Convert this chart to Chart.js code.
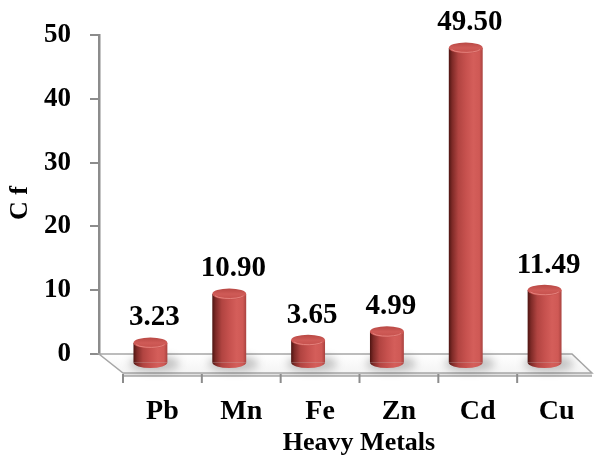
<!DOCTYPE html>
<html>
<head>
<meta charset="utf-8">
<script src="https://cdn.jsdelivr.net/npm/chart.js@4/dist/chart.umd.min.js"></script>
<style>
  html, body { margin: 0; padding: 0; background: #ffffff; }
  #wrap { width: 595px; height: 459px; }
</style>
</head>
<body>
<div id="wrap"><canvas id="c" width="595" height="459"></canvas></div>
<script>
// Contamination factor of each heavy metal
const metals = ['Pb', 'Mn', 'Fe', 'Zn', 'Cd', 'Cu'];
const cfValues = [3.23, 10.90, 3.65, 4.99, 49.50, 11.49];
const yTicks = [0, 10, 20, 30, 40, 50];
const yTitle = 'C f';
const xTitle = 'Heavy Metals';

const SERIF = '"Liberation Serif", "Times New Roman", serif';
// 3D depth: floor front edge offset, bars sit half-way in
const DEPTH_X = 24, DEPTH_Y = 19;
const BAR_DX = 12, BAR_DY = 9.5;
const CAP_RY = 5.5;

function bodyGradient(ctx, x, w) {
  if (!isFinite(x) || !isFinite(w) || w <= 0) return '#c0504d';
  const g = ctx.createLinearGradient(x - w / 2, 0, x + w / 2, 0);
  g.addColorStop(0.00, '#4e1512');
  g.addColorStop(0.10, '#7e2a27');
  g.addColorStop(0.28, '#b14441');
  g.addColorStop(0.50, '#c6514e');
  g.addColorStop(0.72, '#d45e5a');
  g.addColorStop(0.90, '#cf5955');
  g.addColorStop(1.00, '#a9423f');
  return g;
}

function barWidth(chart) {
  const xs = chart.scales.x;
  return (xs.width / metals.length) * 0.43;
}

const cylinderPlugin = {
  id: 'cylinders',
  beforeDatasetsDraw(chart) {
    const ctx = chart.ctx;
    const a = chart.chartArea;
    // floor plate
    const bl = [a.left, a.bottom], br = [a.right, a.bottom];
    const fr = [a.right + DEPTH_X - 4, a.bottom + DEPTH_Y], fl = [a.left + DEPTH_X, a.bottom + DEPTH_Y];
    const th = 3;
    ctx.save();
    ctx.fillStyle = '#e2e2e2';
    ctx.beginPath();
    ctx.moveTo(fl[0], fl[1]); ctx.lineTo(fr[0], fr[1]);
    ctx.lineTo(fr[0], fr[1] + th); ctx.lineTo(fl[0], fl[1] + th); ctx.closePath();
    ctx.fill();
    const fg = ctx.createLinearGradient(0, a.bottom, 0, fl[1]);
    fg.addColorStop(0, '#ffffff');
    fg.addColorStop(1, '#f4f4f4');
    ctx.fillStyle = fg;
    ctx.beginPath();
    ctx.moveTo(bl[0], bl[1]); ctx.lineTo(br[0], br[1]);
    ctx.lineTo(fr[0], fr[1]); ctx.lineTo(fl[0], fl[1]); ctx.closePath();
    ctx.fill();
    ctx.strokeStyle = '#a6a6a6';
    ctx.lineWidth = 1.5;
    ctx.stroke();
    ctx.beginPath();
    ctx.moveTo(fl[0], fl[1] + th); ctx.lineTo(fr[0], fr[1] + th);
    ctx.stroke();
    // category ticks along the front edge
    const xs = chart.scales.x;
    const step = xs.width / metals.length;
    ctx.strokeStyle = '#8c8c8c';
    ctx.lineWidth = 2;
    for (let i = 0; i < metals.length; i++) {
      const tx = xs.left + i * step + DEPTH_X;
      ctx.beginPath();
      ctx.moveTo(tx, fl[1] + 1); ctx.lineTo(tx, fl[1] + 10);
      ctx.stroke();
    }
    // soft shadows under the cylinders
    const meta = chart.getDatasetMeta(0);
    const w = barWidth(chart);
    ctx.filter = 'blur(4px)';
    ctx.fillStyle = 'rgba(0,0,0,0.22)';
    meta.data.forEach(el => {
      ctx.beginPath();
      ctx.ellipse(el.x + BAR_DX + 4, el.base + BAR_DY + 1, w / 2 + 8, CAP_RY + 3, 0, 0, Math.PI * 2);
      ctx.fill();
    });
    ctx.filter = 'none';
    ctx.restore();
    // bars are drawn half-way into the floor depth
    ctx.save();
    ctx.translate(BAR_DX, BAR_DY);
  },
  afterDatasetsDraw(chart) {
    const ctx = chart.ctx;
    ctx.restore();
    const meta = chart.getDatasetMeta(0);
    const w = barWidth(chart);
    ctx.save();
    meta.data.forEach((el, i) => {
      const cx = el.x + BAR_DX;
      const top = el.y + BAR_DY;
      const base = el.base + BAR_DY;
      // rounded bottom
      ctx.fillStyle = bodyGradient(ctx, cx, w);
      ctx.beginPath();
      ctx.ellipse(cx, base, w / 2, CAP_RY, 0, 0, Math.PI);
      ctx.closePath();
      ctx.fill();
      // top cap
      const cg = ctx.createLinearGradient(0, top - CAP_RY, 0, top + CAP_RY);
      cg.addColorStop(0, '#b84844');
      cg.addColorStop(0.5, '#cf5b57');
      cg.addColorStop(1, '#c44f4b');
      ctx.fillStyle = cg;
      ctx.beginPath();
      ctx.ellipse(cx, top, w / 2, CAP_RY, 0, 0, Math.PI * 2);
      ctx.fill();
      ctx.strokeStyle = 'rgba(235,140,135,0.8)';
      ctx.lineWidth = 1;
      ctx.beginPath();
      ctx.ellipse(cx, top + 0.5, w / 2 - 2, CAP_RY - 1.5, 0, Math.PI * 0.1, Math.PI * 0.9);
      ctx.stroke();
      // value label
      ctx.fillStyle = '#000000';
      ctx.font = 'bold 29px ' + SERIF;
      ctx.textAlign = 'center';
      ctx.textBaseline = 'middle';
      ctx.fillText(cfValues[i].toFixed(2), cx + 4, top - 25);
    });
    ctx.restore();
  },
  afterDraw(chart) {
    const ctx = chart.ctx;
    ctx.save();
    ctx.fillStyle = '#000000';
    ctx.textAlign = 'center';
    ctx.textBaseline = 'middle';
    ctx.font = 'bold 26px ' + SERIF;
    ctx.fillText(xTitle, 359, 443);
    ctx.translate(20, 203);
    ctx.rotate(-Math.PI / 2);
    ctx.font = 'bold 26px ' + SERIF;
    ctx.fillText(yTitle, 0, 0);
    ctx.restore();
  }
};

new Chart(document.getElementById('c'), {
  type: 'bar',
  data: {
    labels: metals,
    datasets: [{
      data: cfValues,
      backgroundColor: (c) => {
        const ch = c.chart;
        if (!ch.scales || !ch.scales.x) return '#c0504d';
        const x = ch.scales.x.getPixelForValue(c.dataIndex);
        return bodyGradient(ch.ctx, x, barWidth(ch));
      },
      borderWidth: 0,
      barPercentage: 0.43,
      categoryPercentage: 1,
      clip: false
    }]
  },
  options: {
    responsive: false,
    animation: false,
    devicePixelRatio: 1,
    layout: { padding: { top: 32, right: 23, left: 0, bottom: 0 } },
    plugins: { legend: { display: false }, tooltip: { enabled: false } },
    scales: {
      x: {
        afterFit: (s) => { s.height = 105; },
        grid: { display: false },
        border: { display: false },
        ticks: {
          color: '#000000',
          font: { family: SERIF, size: 28, weight: 'bold' },
          labelOffset: DEPTH_X,
          padding: 33,
          maxRotation: 0
        }
      },
      y: {
        min: 0,
        max: 50,
        afterFit: (s) => { s.width = 99; },
        afterBuildTicks: (s) => { s.ticks = yTicks.map(v => ({ value: v })); },
        grid: { display: true, drawOnChartArea: false, drawTicks: true, tickLength: 9, color: '#8c8c8c', lineWidth: 2 },
        border: { display: true, color: '#8c8c8c', width: 2.5 },
        ticks: {
          color: '#000000',
          font: { family: SERIF, size: 27, weight: 'bold' },
          padding: 19
        }
      }
    }
  },
  plugins: [cylinderPlugin]
});
</script>
</body>
</html>
